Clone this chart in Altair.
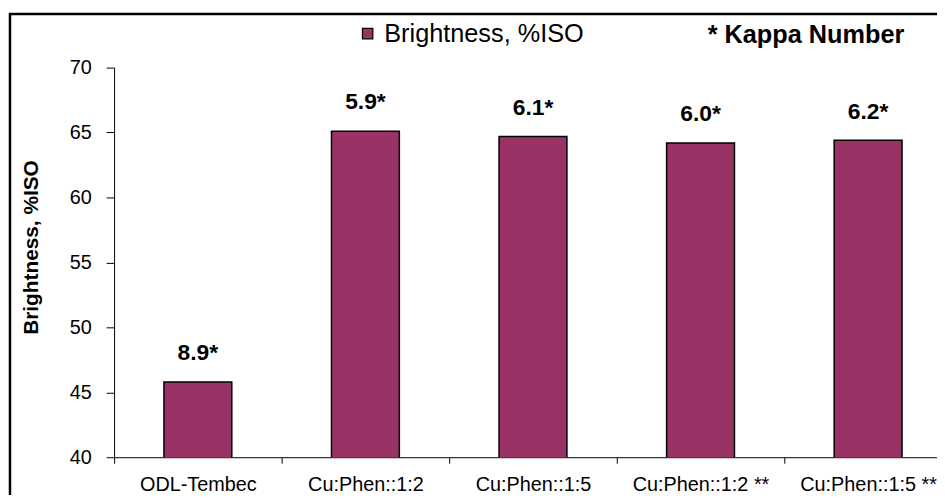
import altair as alt
import pandas as pd

categories = ["ODL-Tembec", "Cu:Phen::1:2", "Cu:Phen::1:5", "Cu:Phen::1:2 **", "Cu:Phen::1:5 **"]
brightness = [45.8, 65.1, 64.7, 64.2, 64.4]
kappa_labels = ["8.9*", "5.9*", "6.1*", "6.0*", "6.2*"]
series_name = "Brightness, %ISO"
y_ticks = [40, 45, 50, 55, 60, 65, 70]
note_text = ["* Kappa Number"]

df = pd.DataFrame({
    "category": categories,
    "value": brightness,
    "kappa": kappa_labels,
    "series": [series_name] * len(categories),
})

FONT = "Liberation Sans"

x_enc = alt.X(
    "category:N",
    sort=categories,
    scale=alt.Scale(range=[0, 845], paddingInner=0, paddingOuter=0),
    axis=alt.Axis(
        title=None, labelAngle=0, labelFontSize=20, labelFont=FONT, labelColor="black",
        tickBand="extent", tickSize=6, tickColor="black", domainColor="black",
        domainWidth=1, tickWidth=1, labelPadding=12, grid=False, labelLimit=300,
    ),
)
y_enc = alt.Y(
    "value:Q",
    scale=alt.Scale(domain=[40, 70], nice=False, zero=False),
    axis=alt.Axis(
        values=y_ticks, title="Brightness, %ISO", titleFont=FONT, titleFontSize=21,
        titleFontWeight="bold", titleColor="black", titleX=-83, titleY=181,
        titleAngle=270, titleAlign="center", titleBaseline="middle",
        labelFontSize=20, labelFont=FONT, labelColor="black", labelPadding=15,
        tickSize=8, tickColor="black", domainColor="black", grid=False,
    ),
)

bars = alt.Chart(df).mark_bar(
    width=alt.RelativeBandSize(0.405), stroke="black", strokeWidth=1.5, clip=True
).encode(
    x=x_enc,
    y=y_enc,
    color=alt.Color(
        "series:N",
        scale=alt.Scale(range=["#993366"]),
        legend=alt.Legend(
            title=None, orient="none", legendX=243, legendY=-47, padding=0,
            symbolType="square", symbolSize=110, symbolStrokeColor="black",
            symbolStrokeWidth=1.2, symbolOpacity=1, labelFontSize=25.5, labelFont=FONT,
            labelColor="black", labelOffset=4, labelLimit=400,
        ),
    ),
)

texts = alt.Chart(df).mark_text(
    dy=-29, baseline="middle", align="center", fontSize=23, fontWeight="bold",
    font=FONT, color="black",
).encode(
    x=alt.X("category:N", sort=categories),
    y="value:Q",
    text="kappa:N",
)

note = alt.Chart(pd.DataFrame({"t": note_text})).mark_text(
    align="right", baseline="middle", fontSize=25.5, fontWeight="bold",
    font=FONT, color="black",
).encode(
    x=alt.value(797), y=alt.value(-33), text="t:N"
)

frame = alt.Chart(pd.DataFrame({"f": [0]})).mark_rect(
    fill="transparent", stroke="black", strokeWidth=2.5
).encode(
    x=alt.value(-105), x2=alt.value(1000), y=alt.value(-54), y2=alt.value(600)
)

chart = alt.layer(frame, bars, texts, note).properties(
    width=830,
    height=393,
    autosize=alt.AutoSizeParams(type="none"),
    padding={"left": 107, "top": 58, "right": 0, "bottom": 36},
).configure_view(strokeWidth=0)

chart.save("out.html", embed_options={"renderer": "svg", "actions": False})
